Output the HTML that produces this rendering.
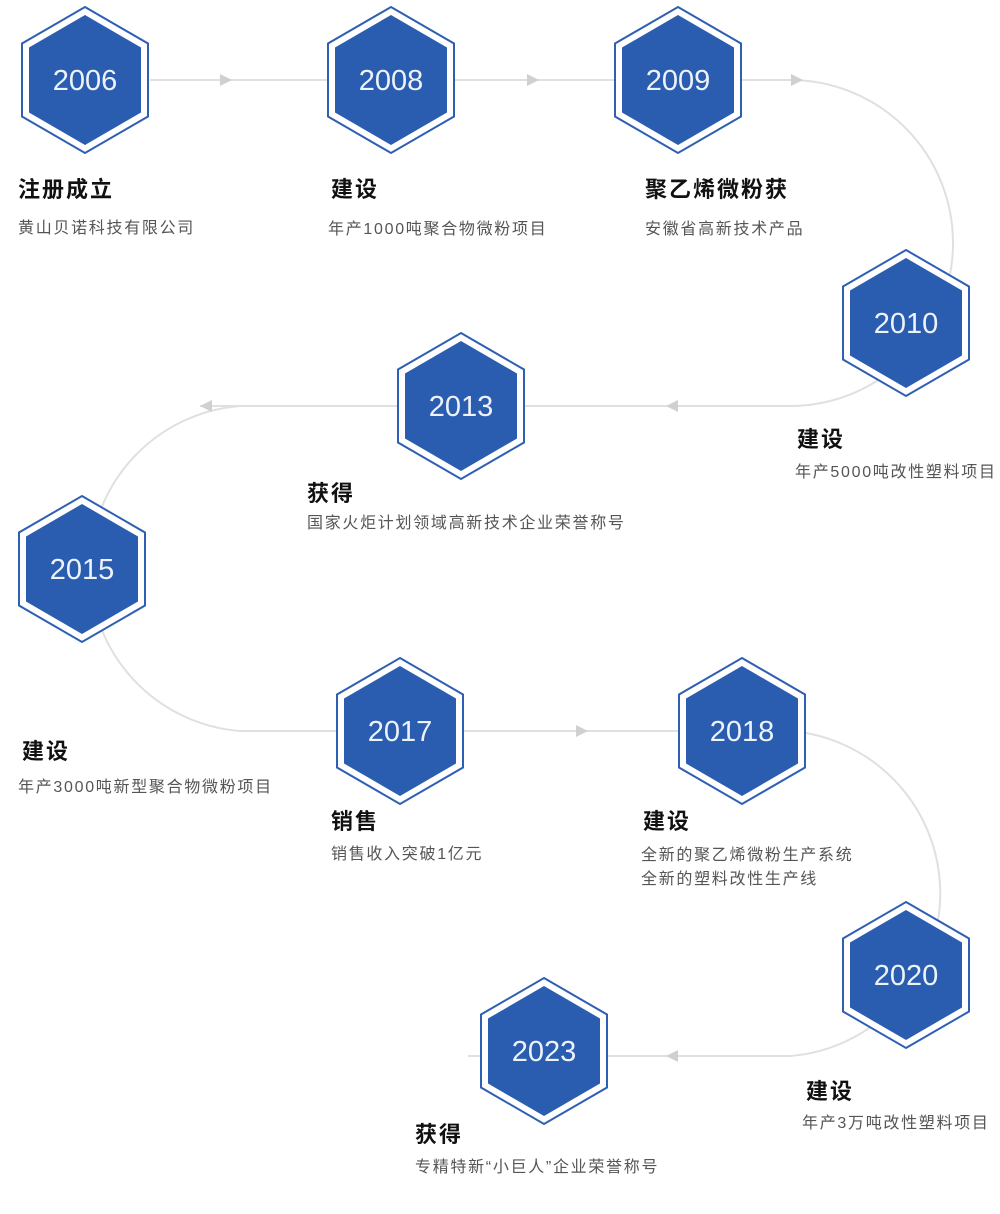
<!DOCTYPE html>
<html><head><meta charset="utf-8"><style>
html,body{margin:0;padding:0;background:#fff;}
svg{display:block;}
.t{font-family:"Liberation Sans","Noto Sans CJK SC",sans-serif;font-size:22px;font-weight:bold;fill:#111;letter-spacing:2px;}
.s{font-family:"Liberation Sans","Noto Sans CJK SC",sans-serif;font-size:16px;fill:#555;letter-spacing:1.7px;}
.y{font-family:"Liberation Sans","DejaVu Sans",sans-serif;font-size:29px;fill:#eef3fb;text-anchor:middle;}
</style></head><body>
<svg width="1000" height="1214" viewBox="0 0 1000 1214" xmlns="http://www.w3.org/2000/svg">
<defs>
<g id="hx">
<polygon points="0,-73 63,-36.5 63,36.5 0,73 -63,36.5 -63,-36.5" fill="#fff" stroke="#2f5fb3" stroke-width="2"/>
<polygon points="0,-65 56,-32.5 56,32.5 0,65 -56,32.5 -56,-32.5" fill="#2a5db0"/>
</g>
<polygon id="ar" points="-6,-6 6,0 -6,6" fill="#d0d0d0"/>
</defs>
<g fill="none" stroke="#e0e0e0" stroke-width="2">
<line x1="150" y1="80" x2="327" y2="80"/>
<line x1="455" y1="80" x2="614" y2="80"/>
<path d="M742 80 L790 80 A163 163 0 0 1 790 406 L200 406"/>
<path d="M240 406 A163 163 0 0 0 240 731 L742 731"/>
<path d="M742 731 L790 731 A163 163 0 0 1 790 1056 L468 1056"/>
</g>
<use href="#ar" x="226" y="80"/>
<use href="#ar" x="533" y="80"/>
<use href="#ar" x="797" y="80"/>
<use href="#ar" transform="translate(672 406) rotate(180)"/>
<use href="#ar" transform="translate(206 406) rotate(180)"/>
<use href="#ar" x="582" y="731"/>
<use href="#ar" transform="translate(672 1056) rotate(180)"/>

<use href="#hx" x="85" y="80"/><text class="y" x="85" y="90">2006</text>
<use href="#hx" x="391" y="80"/><text class="y" x="391" y="90">2008</text>
<use href="#hx" x="678" y="80"/><text class="y" x="678" y="90">2009</text>
<use href="#hx" x="906" y="323"/><text class="y" x="906" y="333">2010</text>
<use href="#hx" x="461" y="406"/><text class="y" x="461" y="416">2013</text>
<use href="#hx" x="82" y="569"/><text class="y" x="82" y="579">2015</text>
<use href="#hx" x="400" y="731"/><text class="y" x="400" y="741">2017</text>
<use href="#hx" x="742" y="731"/><text class="y" x="742" y="741">2018</text>
<use href="#hx" x="906" y="975"/><text class="y" x="906" y="985">2020</text>
<use href="#hx" x="544" y="1051"/><text class="y" x="544" y="1061">2023</text>

<text class="t" x="18" y="197">注册成立</text>
<text class="s" x="18" y="233">黄山贝诺科技有限公司</text>
<text class="t" x="331" y="197">建设</text>
<text class="s" x="328" y="234">年产1000吨聚合物微粉项目</text>
<text class="t" x="645" y="197">聚乙烯微粉获</text>
<text class="s" x="645" y="234">安徽省高新技术产品</text>
<text class="t" x="797" y="447">建设</text>
<text class="s" x="795" y="477">年产5000吨改性塑料项目</text>
<text class="t" x="307" y="501">获得</text>
<text class="s" x="307" y="528">国家火炬计划领域高新技术企业荣誉称号</text>
<text class="t" x="22" y="759">建设</text>
<text class="s" x="18" y="792">年产3000吨新型聚合物微粉项目</text>
<text class="t" x="331" y="829">销售</text>
<text class="s" x="331" y="859">销售收入突破1亿元</text>
<text class="t" x="643" y="829">建设</text>
<text class="s" x="641" y="860">全新的聚乙烯微粉生产系统</text>
<text class="s" x="641" y="884">全新的塑料改性生产线</text>
<text class="t" x="806" y="1099">建设</text>
<text class="s" x="802" y="1128">年产3万吨改性塑料项目</text>
<text class="t" x="415" y="1142">获得</text>
<text class="s" x="415" y="1172">专精特新“小巨人”企业荣誉称号</text>
</svg>
</body></html>
